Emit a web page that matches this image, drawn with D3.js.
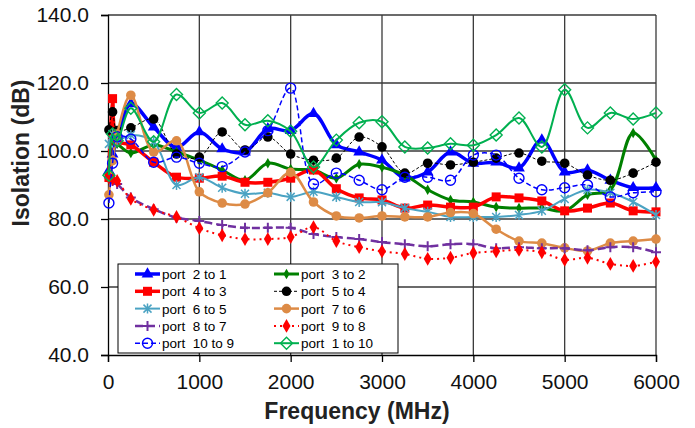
<!DOCTYPE html>
<html>
<head>
<meta charset="utf-8">
<script src="https://cdn.jsdelivr.net/npm/d3@7"></script>
<style>
html,body{margin:0;padding:0;background:#fff;}
svg{display:block;font-family:"Liberation Sans",Arial,sans-serif;}
</style>
</head>
<body>
<svg id="chart" width="695" height="428"></svg>
<script>
// ---- data ----
const freq = [10, 50, 100, 250, 500, 750, 1000, 1250, 1500, 1750, 2000, 2250, 2500, 2750, 3000, 3250, 3500, 3750, 4000, 4250, 4500, 4750, 5000, 5250, 5500, 5750, 6000];
const xTicks = [0, 1000, 2000, 3000, 4000, 5000, 6000];
const yTicks = [40, 60, 80, 100, 120, 140];

const port2to1  = [94.2, 99.1, 103.1, 113.9, 107.0, 101.1, 105.6, 100.6, 99.7, 106.5, 106.0, 111.0, 101.8, 99.7, 97.3, 92.0, 93.8, 99.7, 96.4, 96.7, 95.0, 103.2, 93.8, 94.4, 91.4, 89.2, 89.2];
const port3to2  = [93.2, 103.0, 102.1, 99.4, 101.8, 99.7, 97.3, 94.4, 91.4, 96.4, 94.7, 94.4, 92.0, 96.1, 95.2, 92.9, 88.6, 85.6, 85.0, 83.5, 83.2, 83.2, 82.4, 87.1, 88.6, 105.3, 97.3];
const port4to3  = [92.2, 115.4, 103.0, 101.8, 96.7, 92.3, 92.0, 92.6, 90.8, 90.8, 92.0, 94.4, 88.9, 86.2, 85.6, 83.2, 84.1, 83.5, 83.5, 86.5, 86.2, 85.3, 82.4, 83.2, 84.7, 82.4, 82.1];
const port5to4  = [106.2, 111.5, 106.0, 106.8, 109.4, 99.1, 98.2, 105.6, 100.3, 104.1, 99.1, 97.3, 97.9, 104.1, 101.2, 93.5, 96.4, 95.9, 96.7, 97.9, 99.4, 97.0, 96.4, 92.9, 91.4, 93.5, 96.7];
const port6to5  = [102.1, 105.0, 103.1, 104.7, 102.7, 90.0, 92.3, 89.2, 87.4, 87.7, 86.5, 88.0, 86.5, 85.0, 84.9, 83.2, 82.1, 80.6, 80.6, 80.6, 81.2, 82.4, 85.9, 88.6, 87.7, 85.0, 81.2];
const port7to6  = [87.1, 97.2, 105.0, 116.4, 99.7, 103.0, 88.0, 84.7, 84.4, 87.7, 93.7, 85.0, 80.9, 80.3, 80.9, 80.6, 80.6, 81.9, 81.6, 77.0, 73.5, 72.9, 71.5, 70.6, 72.9, 73.5, 74.1];
const port8to7  = [92.2, 91.2, 90.3, 86.3, 82.9, 80.4, 79.4, 78.2, 77.4, 77.4, 77.4, 75.6, 74.7, 74.1, 73.2, 72.6, 72.0, 72.6, 72.6, 71.4, 71.7, 71.4, 71.4, 70.8, 71.7, 71.7, 70.2];
const port9to8  = [92.2, 91.7, 91.2, 85.9, 82.7, 80.6, 77.3, 75.2, 74.1, 74.1, 74.7, 77.6, 73.5, 71.7, 70.5, 69.7, 68.3, 68.6, 70.0, 70.5, 70.9, 70.2, 68.0, 68.6, 66.8, 66.2, 67.4];
const port10to9 = [84.7, 96.4, 104.2, 103.5, 96.7, 98.2, 96.4, 95.4, 99.7, 106.0, 118.5, 90.3, 93.5, 91.4, 88.6, 92.3, 92.3, 91.4, 98.8, 98.8, 92.0, 88.6, 89.2, 90.0, 86.5, 87.7, 88.0];
const port1to10 = [92.9, 105.0, 103.0, 112.6, 102.7, 116.6, 111.2, 114.1, 107.7, 108.9, 105.8, 95.3, 103.2, 108.3, 108.6, 101.2, 100.9, 102.1, 101.7, 104.7, 109.7, 101.2, 118.0, 106.8, 111.2, 109.4, 111.2];

const seriesNames = ["port  2 to 1", "port  3 to 2", "port  4 to 3", "port  5 to 4", "port  6 to 5",
                     "port  7 to 6", "port  8 to 7", "port  9 to 8", "port  10 to 9", "port  1 to 10"];
const seriesValues = [port2to1, port3to2, port4to3, port5to4, port6to5, port7to6, port8to7, port9to8, port10to9, port1to10];

// ---- styles ----
const styles = [
  {color:"#0000FF", width:3.5, dash:null,  marker:"triangle"},
  {color:"#008000", width:3,   dash:null,  marker:"sdiamond"},
  {color:"#FF0000", width:3.5, dash:null,  marker:"square"},
  {color:"#000000", width:1,   dash:"3,2", marker:"dot"},
  {color:"#4BA3C3", width:2,   dash:null,  marker:"asterisk"},
  {color:"#DD8B46", width:2.5, dash:null,  marker:"circle"},
  {color:"#7030A0", width:2.5, dash:"8,4", marker:"plus"},
  {color:"#FF0000", width:2,   dash:"2,4", marker:"diamond"},
  {color:"#0000FF", width:1.5, dash:"5,3", marker:"ocircle"},
  {color:"#00B050", width:2,   dash:null,  marker:"odiamond"}
];

const svg = d3.select("#chart");
const L = 108, R = 656, T = 15, B = 355;
const x = d3.scaleLinear().domain([0, 6000]).range([L, R]);
const y = d3.scaleLinear().domain([40, 140]).range([B, T]);

// gridlines
const grid = svg.append("g");
grid.selectAll("line.h").data(yTicks.filter(d => d > 40)).enter().append("line")
  .attr("x1", L).attr("x2", R).attr("y1", d => y(d)).attr("y2", d => y(d))
  .attr("stroke", "#6b6b6b").attr("stroke-width", 2);
grid.selectAll("line.v").data(xTicks.filter(d => d > 0)).enter().append("line")
  .attr("y1", T).attr("y2", B).attr("x1", d => x(d)).attr("x2", d => x(d))
  .attr("stroke", "#3a3a3a").attr("stroke-width", 1.3);

// axes
const yAxis = svg.append("g").attr("transform", `translate(${L},0)`)
  .call(d3.axisLeft(y).tickValues(yTicks).tickFormat(d3.format(".1f")).tickSize(7).tickPadding(12));
const xAxis = svg.append("g").attr("transform", `translate(0,${B})`)
  .call(d3.axisBottom(x).tickValues(xTicks).tickFormat(d3.format("d")).tickSize(7).tickPadding(12));
[yAxis, xAxis].forEach(a => {
  a.select(".domain").attr("stroke", "#000").attr("stroke-width", 1.3);
  a.selectAll(".tick line").attr("stroke", "#000").attr("stroke-width", 1.3);
  a.selectAll(".tick text").attr("fill", "#111").style("font-size", "21px")
    .style("font-family", "'Liberation Sans', Arial, sans-serif");
});

// axis titles
svg.append("text").attr("x", 357).attr("y", 419).attr("text-anchor", "middle")
  .style("font-size", "23px").style("font-weight", "bold").attr("fill", "#222")
  .text("Frequency (MHz)");
svg.append("text").attr("transform", "translate(29,153) rotate(-90)").attr("text-anchor", "middle")
  .style("font-size", "23px").style("font-weight", "bold").attr("fill", "#222")
  .text("Isolation (dB)");

// markers
function marker(g, type, cx, cy, color) {
  switch (type) {
    case "triangle":
      g.append("path").attr("d", d3.symbol(d3.symbolTriangle, 60)()).attr("transform", `translate(${cx},${cy})`).attr("fill", color);
      break;
    case "square":
      g.append("rect").attr("x", cx - 4.5).attr("y", cy - 4.5).attr("width", 9).attr("height", 9).attr("fill", color);
      break;
    case "sdiamond":
      g.append("path").attr("d", d3.symbol(d3.symbolDiamond, 32)()).attr("transform", `translate(${cx},${cy})`).attr("fill", color);
      break;
    case "diamond":
      g.append("path").attr("d", d3.symbol(d3.symbolDiamond, 55)()).attr("transform", `translate(${cx},${cy})`).attr("fill", color);
      break;
    case "dot":
      g.append("circle").attr("cx", cx).attr("cy", cy).attr("r", 4.8).attr("fill", color);
      break;
    case "circle":
      g.append("circle").attr("cx", cx).attr("cy", cy).attr("r", 4.8).attr("fill", color);
      break;
    case "ocircle":
      g.append("circle").attr("cx", cx).attr("cy", cy).attr("r", 5).attr("fill", "none").attr("stroke", color).attr("stroke-width", 1.4);
      break;
    case "odiamond":
      g.append("path").attr("d", `M${cx},${cy-6}L${cx+6},${cy}L${cx},${cy+6}L${cx-6},${cy}Z`).attr("fill", "none").attr("stroke", color).attr("stroke-width", 1.4);
      break;
    case "asterisk": {
      const s = 4;
      g.append("path").attr("d", `M${cx-s},${cy-s}L${cx+s},${cy+s}M${cx-s},${cy+s}L${cx+s},${cy-s}M${cx},${cy-s-1}L${cx},${cy+s+1}`)
        .attr("stroke", color).attr("stroke-width", 1.5).attr("fill", "none");
      break;
    }
    case "plus": {
      const s = 5;
      g.append("path").attr("d", `M${cx-s},${cy}L${cx+s},${cy}M${cx},${cy-s}L${cx},${cy+s}`)
        .attr("stroke", color).attr("stroke-width", 2).attr("fill", "none");
      break;
    }
  }
}

// series
const line = d3.line().x(d => x(d[0])).y(d => y(d[1])).curve(d3.curveCatmullRom.alpha(0.5));
seriesValues.forEach((vals, i) => {
  const st = styles[i];
  const pts = freq.map((f, j) => [f, vals[j]]);
  const g = svg.append("g");
  g.append("path").attr("d", line(pts)).attr("fill", "none")
    .attr("stroke", st.color).attr("stroke-width", st.width)
    .attr("stroke-dasharray", st.dash).attr("stroke-linejoin", "round");
  pts.forEach(p => marker(g, st.marker, x(p[0]), y(p[1]), st.color));
});

// legend
const lg = svg.append("g");
lg.append("rect").attr("x", 118).attr("y", 264).attr("width", 280).attr("height", 89)
  .attr("fill", "#fff").attr("stroke", "#000").attr("stroke-width", 1);
seriesNames.forEach((name, i) => {
  const col = i % 2, row = Math.floor(i / 2);
  const lx = col === 0 ? 135 : 274;
  const ly = 274 + row * 17.3;
  const st = styles[i];
  lg.append("line").attr("x1", lx).attr("x2", lx + 25).attr("y1", ly).attr("y2", ly)
    .attr("stroke", st.color).attr("stroke-width", st.width).attr("stroke-dasharray", st.dash);
  marker(lg, st.marker, lx + 12.5, ly, st.color);
  lg.append("text").attr("x", lx + 27).attr("y", ly + 5).style("font-size", "13.5px")
    .style("white-space", "pre").attr("xml:space", "preserve").attr("fill", "#000").text(name);
});
</script>
</body>
</html>
